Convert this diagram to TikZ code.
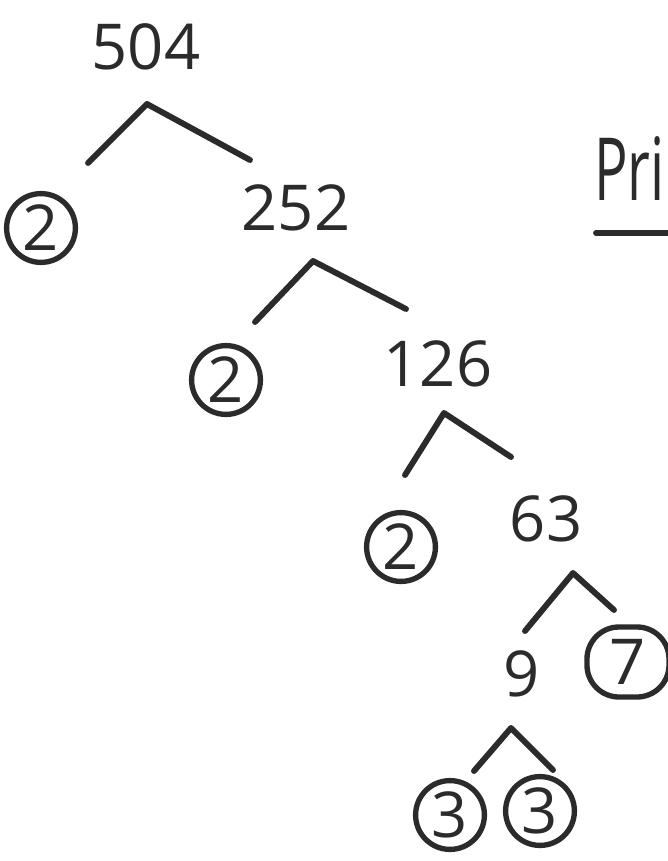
\documentclass[tikz,border=0pt]{standalone}
\usepackage{fontspec}
\setmainfont{Open Sans}
\usetikzlibrary{positioning}
\definecolor{ink}{HTML}{2B2B2B}

\begin{document}
\begin{tikzpicture}[x=0.025cm,y=-0.025cm]
        % factor tree of 504, one branch per division
        \tikzstyle{factor} = [font=\fontsize{45}{45}\selectfont,text=ink,inner sep=0pt];
        \tikzstyle{prime} = [factor,draw=ink,circle,line width=3.8pt,minimum size=1.72cm];
        \tikzstyle{branch} = [draw=ink,line width=4.2pt,line cap=round,line join=round];

        \useasboundingbox (0,0) rectangle (668,861);
        \clip (0,0) rectangle (668,861);

        \node[factor] (n504) at (146,47) {504};
        \node[prime] (p2a) at (41,228) {2};
        \node[factor] (n252) at (296,208) {252};
        \node[prime] (p2b) at (226,380) {2};
        \node[factor] (n126) at (438,364) {126};
        \node[prime] (p2c) at (401,547) {2};
        \node[factor] (n63) at (546,519) {63};
        \node[factor] (n9) at (522,674) {9};
        \node[factor,draw=ink,line width=3.8pt,rounded corners=0.8cm,minimum width=2.05cm,minimum height=1.75cm] (p7) at (628,662) {7};
        \node[prime] (p3a) at (450,815) {3};
        \node[prime] (p3b) at (540,811) {3};

        \coordinate (a1) at (147,104); \coordinate (l1) at (88,163); \coordinate (r1) at (250,160);
        \coordinate (a2) at (313,261); \coordinate (l2) at (255,322); \coordinate (r2) at (406,309);
        \coordinate (a3) at (444,413); \coordinate (l3) at (405,475); \coordinate (r3) at (511,457);
        \coordinate (a4) at (573,573); \coordinate (l4) at (525,631); \coordinate (r4) at (614,610);
        \coordinate (a5) at (511,728); \coordinate (l5) at (474,771); \coordinate (r5) at (553,770);

        \draw[branch] (l1) -- (a1) -- (r1);
        \draw[branch] (l2) -- (a2) -- (r2);
        \draw[branch] (l3) -- (a3) -- (r3);
        \draw[branch] (l4) -- (a4) -- (r4);
        \draw[branch] (l5) -- (a5) -- (r5);

        \node[factor,font=\fontsize{62}{62}\selectfont,xscale=0.64,anchor=base west] (title) at (594,200) {Pri};
        \coordinate (uline) at (668,233);
        \draw[branch] (596,233) -- (uline);

\end{tikzpicture}
\end{document}
